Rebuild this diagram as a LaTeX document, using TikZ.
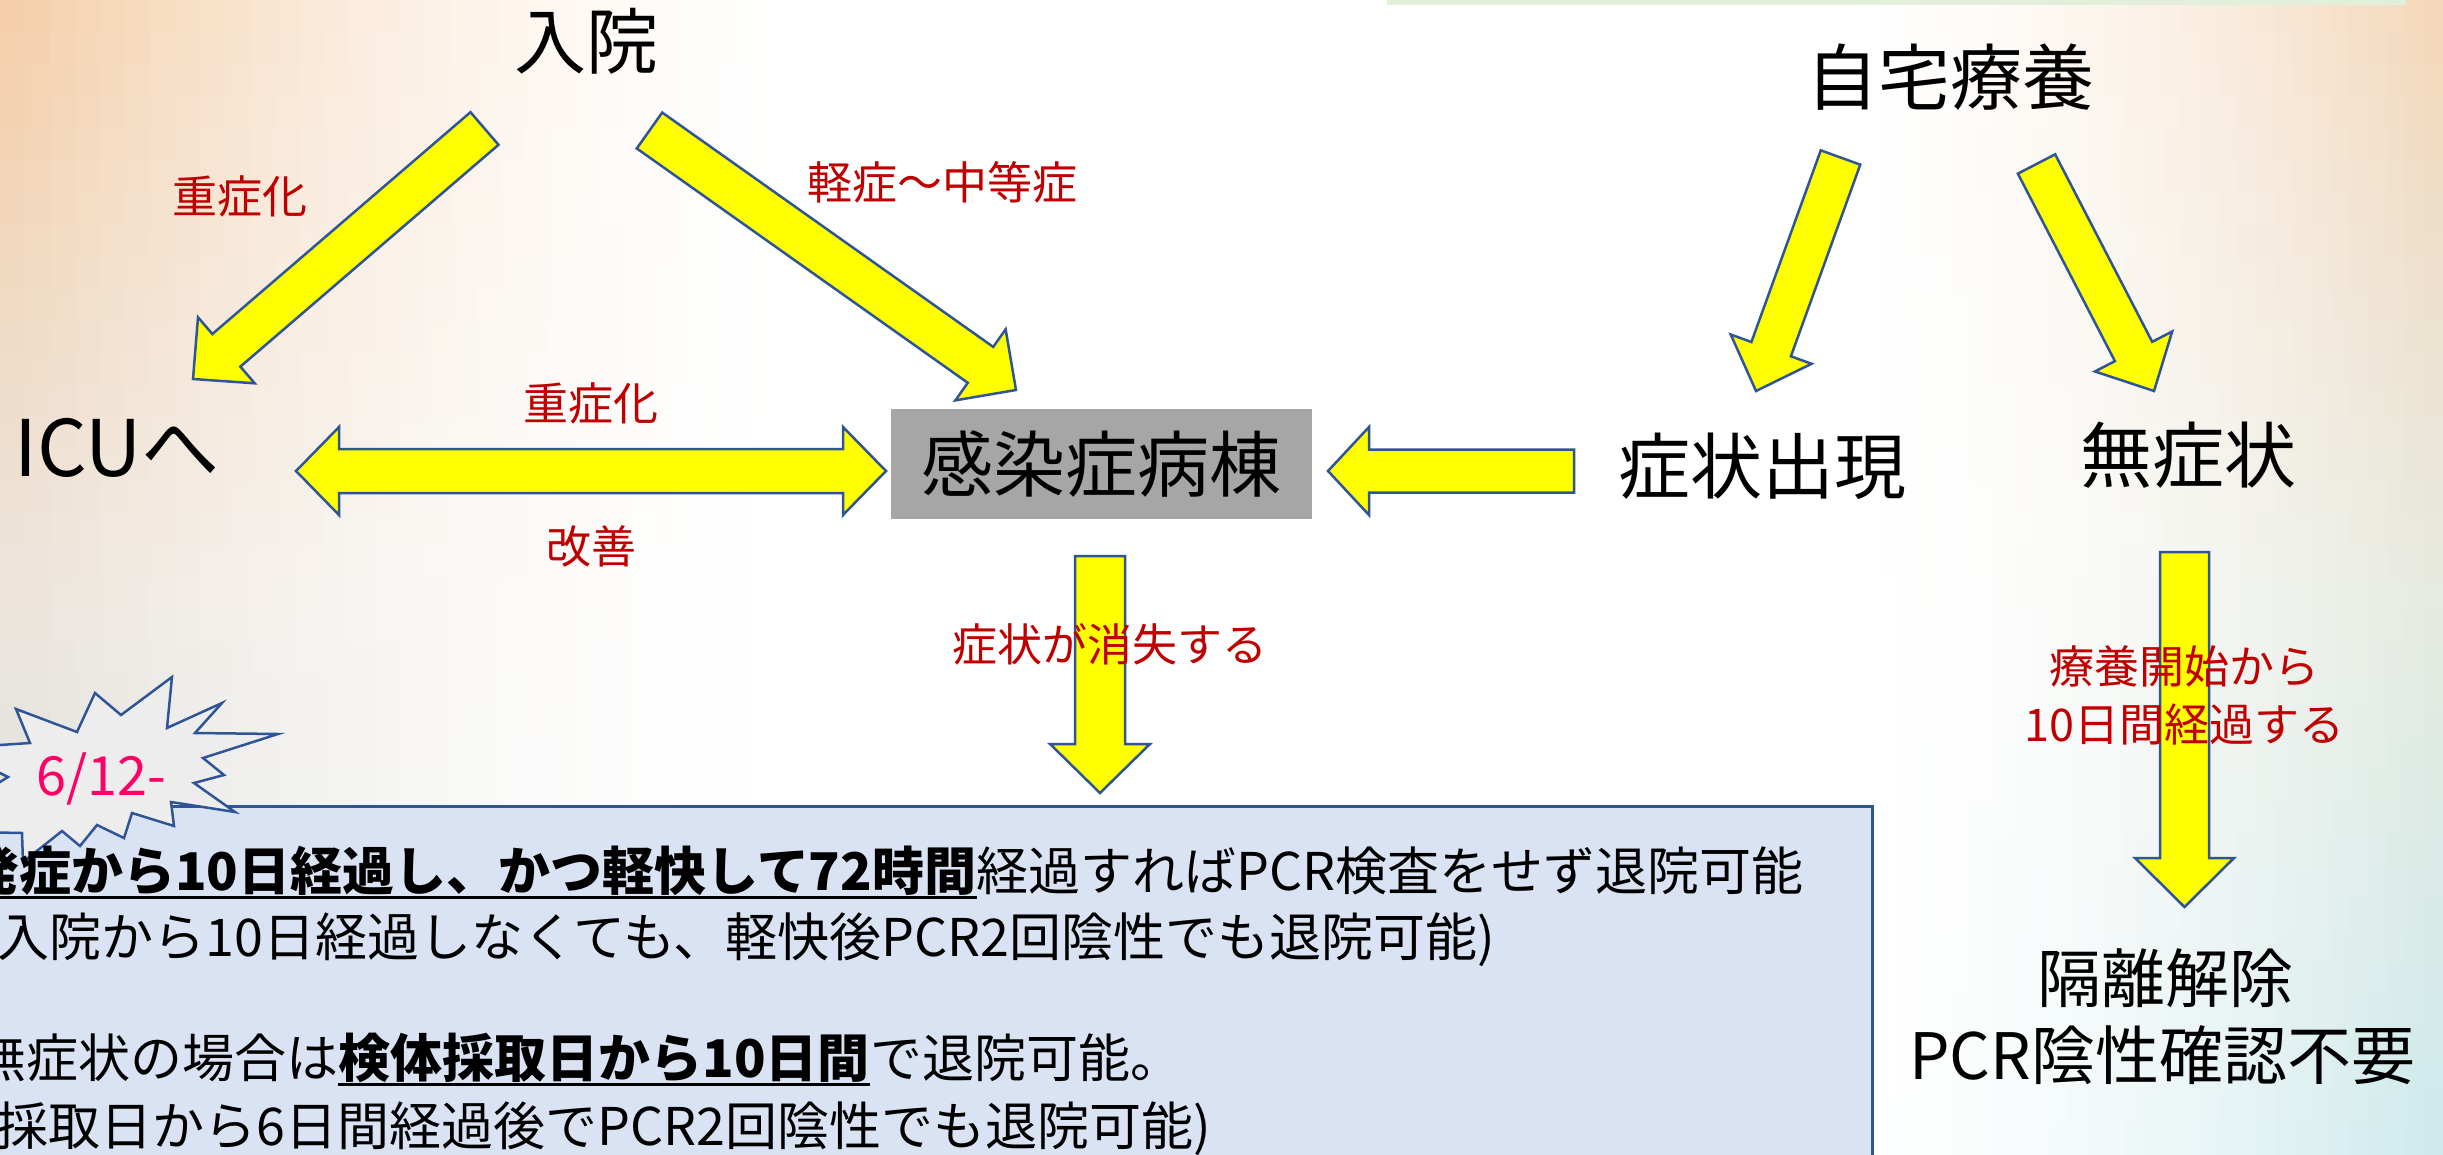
\documentclass[tikz,border=0pt]{standalone}
\usepackage{fontspec}
\setmainfont{Noto Sans CJK JP}
\usetikzlibrary{calc}
\definecolor{arrowyellow}{HTML}{FFFF00}
\definecolor{arrowblue}{HTML}{2F5597}
\definecolor{lblred}{HTML}{C00000}
\definecolor{boxblue}{HTML}{DAE3F3}
\definecolor{wardgray}{HTML}{A6A6A6}
\definecolor{greenbar}{HTML}{E2EFDA}
\definecolor{starfill}{HTML}{EDEDED}
\definecolor{datepink}{HTML}{FF0066}
\definecolor{bgLT}{HTML}{F4CDA6}
\definecolor{bgLM}{HTML}{ECE3DA}
\definecolor{bgLB}{HTML}{D3E3EA}
\definecolor{bgRT}{HTML}{F4D6B8}
\definecolor{bgRM}{HTML}{E6E9DF}
\definecolor{bgRB}{HTML}{CCE9EC}
\tikzset{
  blockarrow/.style={fill=arrowyellow, draw=arrowblue, line width=2.5pt, line join=miter},
  biglabel/.style={font=\fontsize{72}{80}\selectfont, inner sep=0pt},
  redlabel/.style={text=lblred, font=\fontsize{45}{58}\selectfont, inner sep=0pt, align=center},
  boxtext/.style={font=\fontsize{52}{60}\selectfont, inner sep=0pt, anchor=base west},
  uline/.style={line width=3pt, draw=black},
}
% #1 tail, #2 tip, #3 half shaft width, #4 half head width, #5 head length
\newcommand\blockarr[5]{%
  \coordinate (ba-h) at ($(#2)!#5!(#1)$);
  \draw[blockarrow] ($(#1)!#3!90:(#2)$) -- ($(ba-h)!#3!90:(#2)$) -- ($(ba-h)!#4!90:(#2)$)
    -- (#2) -- ($(ba-h)!#4!-90:(#2)$) -- ($(ba-h)!#3!-90:(#2)$) -- ($(#1)!#3!-90:(#2)$) -- cycle;
}
% background band: #1 x start, #2 cell width, #3 = 1 for fade to the right, 0 for fade to the left,
% #4 top, #5 middle, #6 bottom colour
\newcommand\bgband[6]{%
  \foreach \i in {0,...,31}{%
    \pgfmathsetmacro\hx{#1+\i*#2}%
    \pgfmathsetmacro\bgt{#3==1 ? (\i+0.5)/32 : 1-(\i+0.5)/32}%
    \pgfmathsetmacro\hp{100*(1-\bgt)^1.6}%
    \foreach \j in {0,...,35}{%
      \pgfmathsetmacro\vy{\j*32.0833}%
      \pgfmathsetmacro\bgs{(\j+0.5)/36}%
      \pgfmathsetmacro\vp{\bgs<0.5 ? 200*\bgs : 200*(\bgs-0.5)}%
      \ifdim\bgs pt<0.5pt
        \colorlet{cellc}{#5!\vp!#4}%
      \else
        \colorlet{cellc}{#6!\vp!#5}%
      \fi
      \fill[cellc!\hp!white] (\hx,\vy) rectangle ++(#2+0.8,33.2);
    }%
  }%
}
\begin{document}
\begin{tikzpicture}[x=1pt,y=-1pt]
\useasboundingbox (0,0) rectangle (2443,1155);
\clip (0,0) rectangle (2443,1155);
% background
\fill[white] (0,0) rectangle (2443,1155);
\bgband{0}{25}{1}{bgLT}{bgLM}{bgLB}
\bgband{1843}{18.75}{0}{bgRT}{bgRM}{bgRB}
\fill[greenbar] (1387,-5) rectangle (2406,5);

% main nodes
\node[biglabel] (nyuin) at (586,41) {入院};
\node[biglabel] (jitaku) at (1950,77) {自宅療養};
\node[biglabel, font=\fontsize{78}{86}\selectfont] (icu) at (117,448) {ICUへ};
\node[fill=wardgray, minimum width=421pt, minimum height=110pt, inner sep=0pt,
      font=\fontsize{72}{80}\selectfont] (ward) at (1101.5,464) {感染症病棟};
\node[biglabel] (shojo) at (1762,466) {症状出現};
\node[biglabel] (mushojo) at (2188,455) {無症状};
\node[biglabel, font=\fontsize{64}{72}\selectfont] (kakuri) at (2165,978) {隔離解除};
\node[biglabel, font=\fontsize{64}{72}\selectfont] (pcrfree) at (2162,1055) {PCR陰性確認不要};

% arrow end points
\coordinate (a1t) at (484.5,128.5); \coordinate (a1h) at (193,379);
\coordinate (a2t) at (649.5,130.5); \coordinate (a2h) at (1016,390);
\coordinate (a3t) at (1840.5,157.5); \coordinate (a3h) at (1756,391);
\coordinate (a4t) at (2036.5,164); \coordinate (a4h) at (2154,391);
\coordinate (a5t) at (1574,471); \coordinate (a5h) at (1328,471);
\coordinate (a6t) at (1100,556); \coordinate (a6h) at (1100,793);
\coordinate (a7t) at (2184.5,552); \coordinate (a7h) at (2184.5,907);
\coordinate (dL) at (296,471); \coordinate (dR) at (886,471);

\blockarr{a1t}{a1h}{21.5pt}{43.5pt}{44pt}
\blockarr{a2t}{a2h}{22pt}{43.5pt}{43.5pt}
\blockarr{a3t}{a3h}{21pt}{43pt}{44.5pt}
\blockarr{a4t}{a4h}{21pt}{43.5pt}{44.5pt}
\blockarr{a5t}{a5h}{21.5pt}{44pt}{41pt}
\blockarr{a6t}{a6h}{25pt}{50pt}{49pt}
\blockarr{a7t}{a7h}{24.5pt}{49.5pt}{49pt}
\draw[blockarrow] (dL) -- ++(43,-44) -- ++(0,22) -- ($(dR)+(-43,-22)$) -- ++(0,-22) -- (dR)
  -- ++(-43,44) -- ++(0,-22) -- ($(dL)+(43,22)$) -- ++(0,22) -- cycle;

% red labels
\node[redlabel] (sev1) at (240,196) {重症化};
\node[redlabel] (mild) at (942,182) {軽症〜中等症};
\node[redlabel] (sev2) at (591,403) {重症化};
\node[redlabel] (impr) at (591,546) {改善};
\node[redlabel] (resolve) at (1110,644) {症状が消失する};
\node[redlabel] (tenday) at (2184,695) {療養開始から\\10日間経過する};

% bottom box
\draw[fill=boxblue, draw=arrowblue, line width=3pt] (-20,806) rectangle (1872,1180);

% starburst
\draw[fill=starfill, draw=arrowblue, line width=2.5pt, line join=miter]
  (-30,747) -- (30,743) -- (16,709) -- (77,732) -- (95,693) -- (121,715) -- (172,677)
  -- (167,728) -- (222,703) -- (195,733) -- (278,734) -- (203,758) -- (224,775)
  -- (194,783) -- (235,812) -- (171,802) -- (174,826) -- (132,813) -- (124,838)
  -- (97,825) -- (80,846) -- (62,831) -- (23,862) -- (22,833) -- (-30,832)
  -- (-30,790) -- (0,782) -- (8,777) -- (0,773) -- (-30,765) -- cycle;
\node[text=datepink, font=\fontsize{54}{60}\selectfont, inner sep=0pt] (date) at (101,779) {6/12-};

% box text
\node[boxtext] (l1a) at (-33,890) {\bfseries 発症から10日経過し、かつ軽快して72時間};
\node[boxtext] (l1b) at (l1a.base east) {経過すればPCR検査をせず退院可能};
\draw[uline] ([yshift=-7pt]l1a.base west) -- ([yshift=-7pt]l1a.base east);
\node[boxtext] (l2) at (-20,956) {(入院から10日経過しなくても、軽快後PCR2回陰性でも退院可能)};
\node[boxtext] (l4a) at (-26,1077) {無症状の場合は};
\node[boxtext] (l4b) at (l4a.base east) {\bfseries 検体採取日から10日間};
\node[boxtext] (l4c) at (l4b.base east) {で退院可能。};
\draw[uline] ([yshift=-7pt]l4b.base west) -- ([yshift=-7pt]l4b.base east);
\node[boxtext] (l5) at (-125,1145) {(検体採取日から6日間経過後でPCR2回陰性でも退院可能)};
\end{tikzpicture}
\end{document}
